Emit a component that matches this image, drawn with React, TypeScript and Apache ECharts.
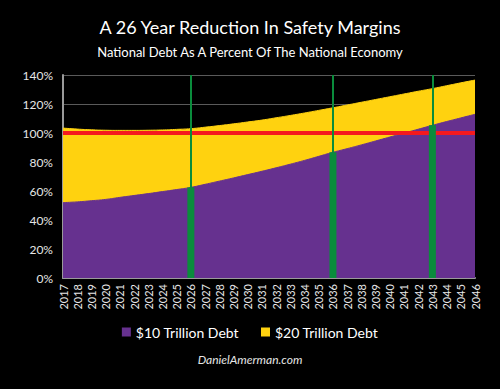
import React, { useEffect, useRef } from "react";
import * as echarts from "echarts";

const years: string[] = [
  "2017","2018","2019","2020","2021","2022","2023","2024","2025","2026",
  "2027","2028","2029","2030","2031","2032","2033","2034","2035","2036",
  "2037","2038","2039","2040","2041","2042","2043","2044","2045","2046",
];

const debt10: number[] = [
  52, 52.5, 53.3, 54.2, 55.6, 56.9, 58.2, 59.6, 61, 62.5,
  64.6, 66.8, 69, 71.3, 73.6, 76, 78.5, 81.1, 83.9, 86.7,
  89.2, 91.8, 94.5, 97.2, 99.9, 102.6, 105.3, 107.9, 110.4, 112.9,
];

const debt20: number[] = [
  103.4, 102.7, 102.2, 101.9, 101.8, 101.8, 101.9, 102.1, 102.5, 103,
  104, 105.1, 106.3, 107.6, 108.9, 110.5, 112.1, 113.8, 115.6, 117.4,
  119.3, 121.2, 123.1, 125, 126.9, 128.8, 130.6, 132.6, 134.6, 136.5,
];

const markerYears: string[] = ["2026", "2036", "2043"];
const thresholdPct = 100;

const title = "A 26 Year Reduction In Safety Margins";
const subtitle = "National Debt As A Percent Of The National Economy";
const footer = "DanielAmerman.com";
const seriesNames: string[] = ["$10 Trillion Debt", "$20 Trillion Debt"];

const FONT = "Lato, 'Open Sans', sans-serif";

export default function App() {
  const ref = useRef<HTMLDivElement>(null);
  useEffect(() => {
    document.body.style.margin = "0";
    document.body.style.background = "#000";
    if (!ref.current) return;
    const chart = echarts.init(ref.current, undefined, { renderer: "svg" });
    const markerData = years.map((y, i) => (markerYears.includes(y) ? debt10[i] : null));
    chart.setOption({
      animation: false,
      backgroundColor: "#000000",
      textStyle: { fontFamily: FONT },
      title: [
        {
          text: title,
          left: "center",
          top: 13,
          textStyle: { color: "#ffffff", fontSize: 18, fontWeight: "normal", fontFamily: FONT },
        },
        {
          text: subtitle,
          left: "center",
          top: 40,
          textStyle: { color: "#ffffff", fontSize: 13, fontWeight: "normal", fontFamily: FONT },
        },
        {
          text: footer,
          left: "center",
          top: 348,
          textStyle: { color: "#e6e6e6", fontSize: 12, fontStyle: "italic", fontWeight: "normal", fontFamily: FONT },
        },
      ],
      legend: {
        data: seriesNames,
        top: 320,
        left: "center",
        itemWidth: 9,
        itemHeight: 9,
        itemGap: 22,
        icon: "rect",
        textStyle: { color: "#ffffff", fontSize: 14, fontFamily: FONT },
      },
      grid: { left: 63, right: 25, top: 75, bottom: 111 },
      xAxis: {
        type: "category",
        data: years,
        boundaryGap: false,
        axisLine: { lineStyle: { color: "#9a9a9a", width: 2 } },
        axisTick: { show: false },
        axisLabel: { color: "#e6e6e6", fontSize: 11, rotate: 90, interval: 0, margin: 6, fontFamily: FONT },
        splitLine: { show: false },
      },
      yAxis: {
        type: "value",
        min: 0,
        max: 140,
        interval: 20,
        axisLine: { show: true, lineStyle: { color: "#9a9a9a", width: 2 } },
        axisTick: { show: false },
        axisLabel: { color: "#e6e6e6", fontSize: 12, formatter: "{value}%", margin: 10, fontFamily: FONT },
        splitLine: { lineStyle: { color: "#5a5a5a", width: 1 } },
      },
      series: [
        {
          name: seriesNames[0],
          type: "line",
          data: debt10,
          smooth: true,
          symbol: "none",
          z: 3,
          itemStyle: { color: "#66318f" },
          lineStyle: { color: "#66318f", width: 1 },
          areaStyle: { color: "#66318f", opacity: 1 },
          markLine: {
            silent: true,
            symbol: "none",
            label: { show: false },
            lineStyle: { color: "#f5191e", width: 4, type: "solid" },
            data: [{ yAxis: thresholdPct }],
          },
        },
        {
          name: seriesNames[1],
          type: "line",
          data: debt20,
          smooth: true,
          symbol: "none",
          z: 2,
          itemStyle: { color: "#ffd20f" },
          lineStyle: { color: "#ffd20f", width: 1 },
          areaStyle: { color: "#ffd20f", opacity: 1 },
        },
        {
          name: "markers",
          type: "bar",
          data: markerData,
          barWidth: 7,
          z: 5,
          itemStyle: { color: "#0a8c3c" },
          markLine: {
            silent: true,
            symbol: "none",
            label: { show: false },
            lineStyle: { color: "#0a8c3c", width: 2, type: "solid" },
            data: markerYears.map((y) => ({ xAxis: y })),
          },
        },
      ],
    });
    return () => chart.dispose();
  }, []);
  return <div ref={ref} style={{ width: 500, height: 389 }} />;
}
